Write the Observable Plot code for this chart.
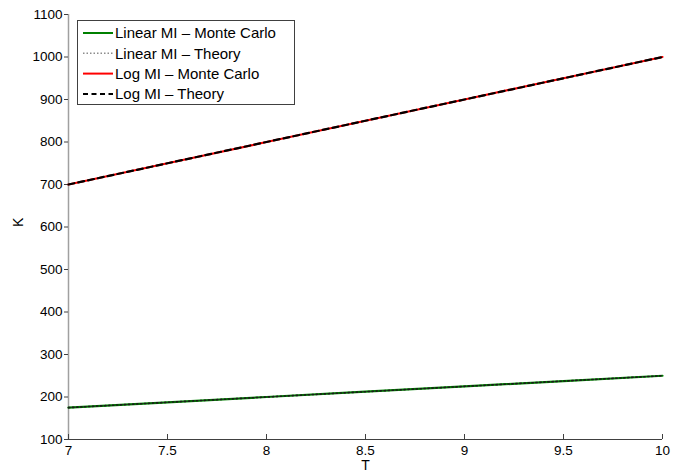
<!DOCTYPE html>
<html>
<head>
<meta charset="utf-8">
<script src="https://cdn.jsdelivr.net/npm/d3@7"></script>
<script src="https://cdn.jsdelivr.net/npm/@observablehq/plot@0.6"></script>
<style>
  html, body { margin: 0; padding: 0; background: #fff; }
  #chart { position: relative; width: 691px; height: 473px; font-family: "Liberation Sans", Arial, Helvetica, sans-serif; }
  #legend { position: absolute; left: 77px; top: 20px; }
</style>
</head>
<body>
<div id="chart"></div>
<script>
// T values and the K curves for each estimator
const T = [7, 7.5, 8, 8.5, 9, 9.5, 10];
const linearMonteCarlo = [175, 187.5, 200, 212.5, 225, 237.5, 250];
const linearTheory     = [175, 187.5, 200, 212.5, 225, 237.5, 250];
const logMonteCarlo    = [700, 750, 800, 850, 900, 950, 1000];
const logTheory        = [700, 750, 800, 850, 900, 950, 1000];

const xTicks = [7, 7.5, 8, 8.5, 9, 9.5, 10];
const yTicks = [100, 200, 300, 400, 500, 600, 700, 800, 900, 1000, 1100];

const legendLabels = ["Linear MI \u2013 Monte Carlo", "Linear MI \u2013 Theory", "Log MI \u2013 Monte Carlo", "Log MI \u2013 Theory"];
const legendColors = ["#008000", "#8c8c8c", "#ff0000", "#000000"];
const legendDashes = [null, "1.5,2", null, "5,3.5"];
const legendWidths = [2, 1.5, 2, 2];

const toRows = (ys) => T.map((t, i) => ({T: t, K: ys[i]}));

const plot = Plot.plot({
  width: 691,
  height: 473,
  marginLeft: 68,
  marginRight: 29,
  marginTop: 14,
  marginBottom: 34,
  style: {background: "#fff", fontSize: "13.5px", fontFamily: "'Liberation Sans', Arial, Helvetica, sans-serif", color: "#000"},
  x: {domain: [7, 10]},
  y: {domain: [100, 1100]},
  marks: [
    // axis lines: light grey left spine, dark bottom spine
    Plot.ruleX([7], {stroke: "#a0a0a0", strokeWidth: 1.5}),
    Plot.ruleY([100], {stroke: "#404040", strokeWidth: 1}),
    Plot.axisY(yTicks, {tickSize: 4, tickPadding: 2, stroke: "#404040", label: null, fill: "#000", tickFormat: d => String(d)}),
    Plot.tickX(xTicks, {x: d => d, insetTop: 420, stroke: "#404040"}),
    Plot.axisX(xTicks, {tickSize: 0, tickPadding: 6, label: null, fill: "#000", tickFormat: d => String(d)}),
    Plot.text(["K"], {frameAnchor: "left", dx: -50, rotate: -90, fontSize: 14, fill: "#000"}),
    Plot.text(["T"], {frameAnchor: "bottom", lineAnchor: "middle", dy: 26, fontSize: 14, fill: "#000"}),
    // curves
    Plot.line(toRows(linearMonteCarlo), {x: "T", y: "K", stroke: "#008000", strokeWidth: 2.2}),
    Plot.line(toRows(linearTheory), {x: "T", y: "K", stroke: "#1a1a1a", strokeWidth: 1.6, strokeDasharray: "1.5,2.5"}),
    Plot.line(toRows(logMonteCarlo), {x: "T", y: "K", stroke: "#ff0000", strokeWidth: 2.2}),
    Plot.line(toRows(logTheory), {x: "T", y: "K", stroke: "#000", strokeWidth: 2.2, strokeDasharray: "6,4"})
  ]
});

const chart = document.getElementById("chart");
chart.appendChild(plot);

// legend box
const lw = 218, lh = 85;
const legend = d3.create("svg")
  .attr("id", "legend")
  .attr("width", lw + 1)
  .attr("height", lh + 1);
legend.append("rect")
  .attr("x", 0.5).attr("y", 0.5)
  .attr("width", lw - 1).attr("height", lh - 1)
  .attr("fill", "#fff").attr("stroke", "#404040").attr("stroke-width", 1);
const rows = legend.selectAll("g").data(legendLabels).join("g")
  .attr("transform", (d, i) => `translate(0, ${13 + i * 20.3})`);
rows.append("line")
  .attr("x1", 6).attr("x2", 36).attr("y1", 0).attr("y2", 0)
  .attr("stroke", (d, i) => legendColors[i])
  .attr("stroke-width", (d, i) => legendWidths[i])
  .attr("stroke-dasharray", (d, i) => legendDashes[i]);
rows.append("text")
  .attr("x", 38).attr("y", 0).attr("dy", "0.36em")
  .attr("font-size", 15)
  .attr("font-family", "'Liberation Sans', Arial, Helvetica, sans-serif")
  .attr("fill", "#000")
  .text(d => d);
chart.appendChild(legend.node());
</script>
</body>
</html>
